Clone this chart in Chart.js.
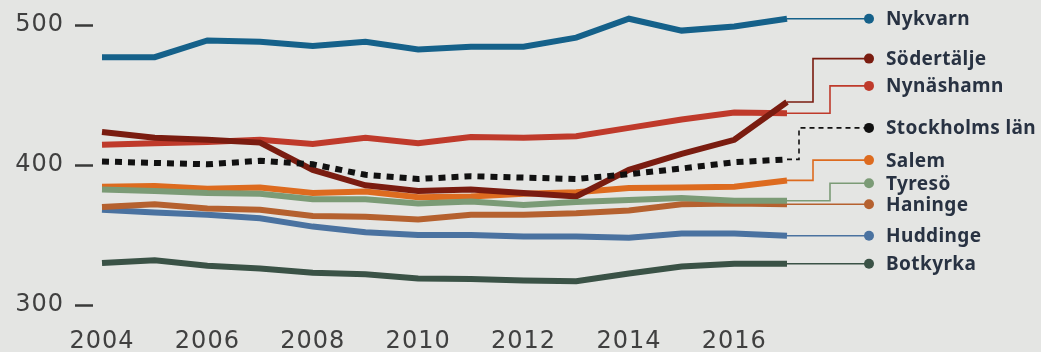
<!DOCTYPE html>
<html>
<head>
<meta charset="utf-8">
<script src="https://cdn.jsdelivr.net/npm/chart.js@4/dist/chart.umd.min.js"></script>
<style>
  html, body { margin: 0; padding: 0; background: #e4e5e3; }
  #wrap { width: 1041px; height: 352px; }
</style>
</head>
<body>
<div id="wrap"><canvas id="c"></canvas></div>
<script>
// Years on the x axis (labels shown every second year)
const years = [2004, 2005, 2006, 2007, 2008, 2009, 2010, 2011, 2012, 2013, 2014, 2015, 2016, 2017];
const yTicks = [300, 400, 500];

// Series values per municipality
const nykvarn      = [477, 477, 489, 488, 485, 488, 482.5, 484.5, 484.5, 491, 504.5, 496, 499, 504.5];
const sodertalje   = [423.5, 419.5, 418, 416, 396.5, 385.5, 381.5, 382.5, 380, 377.5, 396.5, 408, 418, 445];
const nynashamn    = [414.5, 415.5, 416.5, 418, 415, 419.5, 415.5, 420, 419.5, 420.5, 426.5, 432.5, 437.5, 437];
const stockholmsLan= [402.5, 401.5, 400.5, 403, 400.5, 393, 390, 392, 391, 390, 393.5, 397.5, 402, 404];
const salem        = [384.5, 385, 383, 384, 380, 381, 377, 377.5, 379.5, 380.5, 383.5, 384, 384.5, 389];
const tyreso       = [382.5, 381.5, 380, 379.5, 375.5, 375.5, 372.5, 374, 371.5, 373.5, 375, 376.5, 374.5, 374.5];
const haninge      = [370, 372, 369, 368, 363.5, 363, 361, 364.5, 364.5, 365.5, 367.5, 372, 372.5, 372];
const huddinge     = [368, 366, 364.5, 362, 356, 352, 350, 350, 349, 349, 348, 351, 351, 349.5];
const botkyrka     = [330, 332, 328, 326, 323, 322, 319, 318.5, 317.5, 317, 322.5, 327.5, 329.5, 329.5];

const names  = ['Nykvarn', 'Södertälje', 'Nynäshamn', 'Stockholms län', 'Salem', 'Tyresö', 'Haninge', 'Huddinge', 'Botkyrka'];
const series = [nykvarn, sodertalje, nynashamn, stockholmsLan, salem, tyreso, haninge, huddinge, botkyrka];
const colors = ['#15618a', '#7a1c10', '#bf3a2b', '#111111', '#dd6b1f', '#7b9b76', '#b5612f', '#4a72a0', '#3a5246'];

// End-label layout: label height (in y units, null = at the line end) and elbow offset in px
const labelAt = [null, 476, 456.5, 426.5, 403.5, 387, null, null, null];
const elbowAt = [0, 26, 43, 12, 26, 43, 0, 0, 0];
const drawOrder = [5, 2, 3, 0, 4, 1, 6, 7, 8];

const LABEL_FONT = '"Noto Sans", sans-serif';
const AXIS_FONT = '"DejaVu Sans", sans-serif';

const background = {
  id: 'background',
  beforeDraw(chart) {
    const { ctx, width, height } = chart;
    ctx.save();
    ctx.fillStyle = '#e4e5e3';
    ctx.fillRect(0, 0, width, height);
    ctx.restore();
    // slightly open spacing for the axis numbers
    ctx.letterSpacing = '1px';
  }
};

const endLabels = {
  id: 'endLabels',
  afterDatasetsDraw(chart) {
    const { ctx, chartArea, scales: { y } } = chart;
    chart.data.datasets.forEach((ds, i) => {
      const meta = chart.getDatasetMeta(i);
      const last = meta.data[meta.data.length - 1];
      const x0 = last.x, y0 = last.y;
      const ly = labelAt[i] == null ? y0 : y.getPixelForValue(labelAt[i]);
      const xe = chartArea.right + elbowAt[i];
      const xd = chartArea.right + 82;
      ctx.save();
      ctx.strokeStyle = ds.borderColor;
      ctx.lineWidth = 1.6;
      ctx.setLineDash(ds.borderDash && ds.borderDash.length ? [5, 4] : []);
      ctx.beginPath();
      ctx.moveTo(x0, y0);
      if (elbowAt[i]) {
        ctx.lineTo(xe, y0);
        ctx.lineTo(xe, ly);
      }
      ctx.lineTo(xd, ly);
      ctx.stroke();
      ctx.setLineDash([]);
      ctx.fillStyle = ds.borderColor;
      ctx.beginPath();
      ctx.arc(xd, ly, 5, 0, Math.PI * 2);
      ctx.fill();
      ctx.fillStyle = '#283242';
      ctx.font = 'bold 19px ' + LABEL_FONT;
      ctx.letterSpacing = '0.4px';
      ctx.textBaseline = 'middle';
      ctx.textAlign = 'left';
      ctx.fillText(ds.label, xd + 17, ly + 1);
      ctx.restore();
    });
  }
};

const datasets = names.map((name, i) => ({
  label: name,
  data: series[i],
  borderColor: colors[i],
  backgroundColor: colors[i],
  borderWidth: 6,
  borderDash: name === 'Stockholms län' ? [7, 6] : [],
  borderCapStyle: 'butt',
  pointRadius: 0,
  tension: 0,
  fill: false,
  order: drawOrder[i]
}));

new Chart(document.getElementById('c'), {
  type: 'line',
  data: { labels: years, datasets },
  options: {
    responsive: true,
    maintainAspectRatio: false,
    animation: false,
    layout: { padding: { top: 11, right: 254, left: 0, bottom: 0 } },
    plugins: { legend: { display: false }, tooltip: { enabled: false } },
    scales: {
      x: {
        grid: { display: false },
        border: { display: false },
        ticks: {
          autoSkip: false,
          maxRotation: 0,
          padding: 14,
          color: '#404040',
          font: { family: AXIS_FONT, size: 24 },
          callback(v, idx) { return years[idx] % 2 === 0 ? String(years[idx]) : ''; }
        },
        afterFit(scale) { scale.height = 47; scale.paddingLeft = 0; scale.paddingRight = 0; }
      },
      y: {
        min: 300,
        max: 510,
        afterBuildTicks(scale) { scale.ticks = yTicks.map(v => ({ value: v })); },
        afterFit(scale) { scale.width = 102; scale.paddingTop = 0; scale.paddingBottom = 0; },
        border: { display: false },
        grid: {
          drawOnChartArea: false,
          drawTicks: true,
          tickLength: 27,
          tickWidth: 2.5,
          tickColor: '#3a3a3a',
          tickBorderDash: [18, 40]
        },
        ticks: {
          padding: 11,
          color: '#404040',
          font: { family: AXIS_FONT, size: 24 }
        }
      }
    }
  },
  plugins: [background, endLabels]
});
</script>
</body>
</html>
